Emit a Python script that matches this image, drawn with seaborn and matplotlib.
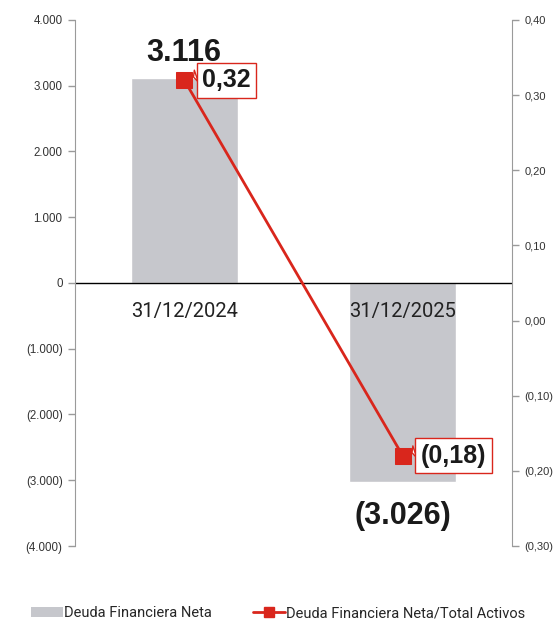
import seaborn as sns
import pandas as pd
import matplotlib.pyplot as plt
import matplotlib.ticker as mticker
from matplotlib.patches import Patch
from matplotlib.lines import Line2D

# data
categories = ["31/12/2024", "31/12/2025"]
deuda_neta = [3116, -3026]
ratio_activos = [0.32, -0.18]
bar_labels = ["3.116", "(3.026)"]
ratio_labels = ["0,32", "(0,18)"]

bar_color = "#C6C7CC"
red = "#D9261C"

sns.set_style("white")
plt.rcParams['font.family'] = ['Liberation Sans', 'DejaVu Sans']

df = pd.DataFrame({"fecha": categories, "deuda": deuda_neta, "ratio": ratio_activos})


def fmt_left(v, pos):
    s = f"{abs(v):,.0f}".replace(",", ".")
    return f"({s})" if v < 0 else s


def fmt_right(v, pos):
    s = f"{abs(v):.2f}".replace(".", ",")
    return f"({s})" if v < -1e-9 else s


fig = plt.figure(figsize=(5.56, 6.24), dpi=100)
ax = fig.add_axes([0.1349, 0.125, 0.786, 0.843])

# bars
sns.barplot(data=df, x="fecha", y="deuda", color=bar_color, width=0.49,
            saturation=1, ax=ax)
ax.set_xlim(-0.5, 1.5)
ax.set_ylim(-4000, 4000)
ax.set_yticks(range(-4000, 4001, 1000))
ax.yaxis.set_major_formatter(mticker.FuncFormatter(fmt_left))
ax.axhline(0, color="black", lw=1)
ax.set_xlabel("")
ax.set_ylabel("")
ax.set_xticks([])
ax.tick_params(axis="y", left=True, length=5, width=1, color="#9a9a9a",
               labelsize=8.3, labelcolor="#333333", pad=4)
for side in ["top", "right", "bottom"]:
    ax.spines[side].set_visible(False)
ax.spines["left"].set_color("#9a9a9a")

# category labels just under zero line
for i, c in enumerate(categories):
    ax.text(i, -440, c, ha="center", va="center", fontsize=14.5,
            color="#222222", family=["Roboto", "DejaVu Sans"])

# bar value labels
ax.text(0, 3116 + 380, bar_labels[0], ha="center", va="center",
        fontsize=22, fontweight="bold", color="#1a1a1a")
ax.text(1, -3026 - 520, bar_labels[1], ha="center", va="center",
        fontsize=22, fontweight="bold", color="#1a1a1a")

# ratio line on secondary axis
ax2 = ax.twinx()
sns.lineplot(x=[0, 1], y=ratio_activos, ax=ax2, color=red, lw=2,
             marker="s", markersize=12, markeredgecolor=red, sort=False)
ax2.set_xlim(-0.5, 1.5)
ax2.set_ylim(-0.30, 0.40)
ax2.set_yticks([-0.3, -0.2, -0.1, 0.0, 0.1, 0.2, 0.3, 0.4])
ax2.yaxis.set_major_formatter(mticker.FuncFormatter(fmt_right))
ax2.tick_params(axis="y", right=True, length=5, width=1, color="#9a9a9a",
                labelsize=8, labelcolor="#333333", pad=4)
for side in ["top", "left", "bottom"]:
    ax2.spines[side].set_visible(False)
ax2.spines["right"].set_color("#9a9a9a")

# ratio value boxes with a small callout tail
for i, (v, lab) in enumerate(zip(ratio_activos, ratio_labels)):
    ax2.annotate(lab, xy=(i, v), xytext=(13, 0), textcoords="offset points",
                 ha="left", va="center", fontsize=18, fontweight="bold",
                 color="#1a1a1a",
                 bbox=dict(boxstyle="square,pad=0.22", fc="white", ec=red, lw=1),
                 arrowprops=dict(arrowstyle="wedge,tail_width=0.5,shrink_factor=0.5",
                                 fc="white", ec=red, lw=1, relpos=(0, 0.75),
                                 shrinkA=0, shrinkB=7))

# legend
handles = [
    Patch(facecolor=bar_color, edgecolor="none", label="Deuda Financiera Neta"),
    Line2D([0], [0], color=red, lw=2, marker="s", markersize=7,
           label="Deuda Financiera Neta/Total Activos"),
]
fig.legend(handles=handles, loc="lower center", bbox_to_anchor=(0.5, -0.015),
           ncol=2, frameon=False, handlelength=2.2,
           handletextpad=0.1, columnspacing=2.8,
           prop={"family": ["Roboto", "DejaVu Sans"], "size": 10.5})

fig.savefig("out.png", dpi=100)
